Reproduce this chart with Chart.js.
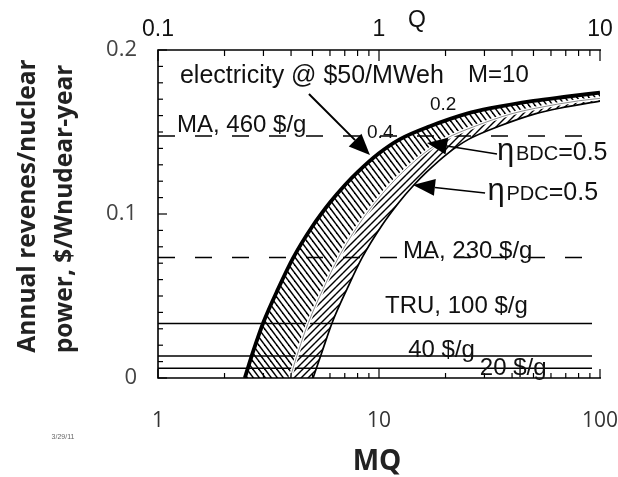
<!DOCTYPE html>
<html><head><meta charset="utf-8">
<script src="https://cdn.jsdelivr.net/npm/chart.js@4/dist/chart.umd.min.js"></script>
<style>html,body{margin:0;padding:0;background:#fff;}canvas{display:block;}</style>
</head><body>
<canvas id="c" width="618" height="477"></canvas>
<script>
// ---- tick labels ----
const mqTickValues = [1, 10, 100];
const mqTickLabels = ['1', '10', '100'];
const mqMinorTicks = [2, 3, 4, 5, 6, 7, 8, 9, 20, 30, 40, 50, 60, 70, 80, 90];
const qTickValues = [0.1, 1, 10];
const qTickLabels = ['0.1', '1', '10'];
const qMinorTicks = [0.2, 0.3, 0.4, 0.5, 0.6, 0.7, 0.8, 0.9, 2, 3, 4, 5, 6, 7, 8, 9];
const yTickValues = [0, 0.1, 0.2];
const yTickLabels = ['0', '0.1', '0.2'];
const yMinorTicks = [0.01, 0.02, 0.03, 0.04, 0.05, 0.06, 0.07, 0.08, 0.09, 0.11, 0.12, 0.13, 0.14, 0.15, 0.16, 0.17, 0.18, 0.19];

// ---- curves (MQ, annual revenue $/W-year) ----
// electricity @ $50/MWeh, M=10 (outer band edge)
const outerMQ  = [2.47, 2.7, 3.0, 3.5, 4.1, 5, 6, 7, 8, 10, 12.4, 17, 25, 32, 50, 70, 100];
const outerRev = [0, 0.0165, 0.034, 0.0545, 0.0735, 0.0925, 0.107, 0.1175, 0.1255, 0.137, 0.1455, 0.1535, 0.1612, 0.1645, 0.169, 0.1715, 0.174];
// eta_BDC = 0.5 (middle divider)
const middleMQ  = [3.96, 4.32, 4.8, 5.6, 6.56, 8, 9.6, 11.2, 12.8, 16, 19.8, 27.2, 40, 51.2, 80, 100];
const middleRev = [0, 0.0165, 0.034, 0.0545, 0.0735, 0.0925, 0.107, 0.1175, 0.1255, 0.137, 0.1455, 0.1535, 0.1612, 0.1645, 0.169, 0.1705];
// eta_PDC = 0.5 (inner band edge)
const innerMQ  = [5.03, 5.54, 6.15, 7.18, 8.4, 10.25, 12.3, 14.35, 16.4, 20.5, 25.4, 34.9, 51.3, 65.6, 100];
const innerRev = [0, 0.0165, 0.034, 0.0545, 0.0735, 0.0925, 0.107, 0.1175, 0.1255, 0.137, 0.1455, 0.1535, 0.1612, 0.1645, 0.1688];

// ---- horizontal value levels ----
const levelNames  = ['MA, 460 $/g', 'MA, 230 $/g', 'TRU, 100 $/g', '40 $/g', '20 $/g'];
const levelValues = [0.1476, 0.0735, 0.0333, 0.0134, 0.0059];
const levelFromMQ = 1;
const levelToMQ = 92;

// ---- annotations (data coordinates) ----
const notes = [
  {parts: [['electricity @ $50/MWeh', 25]], mq: 1.257, rev: 0.1801},
  {parts: [['M=10', 24]], mq: 25.3, rev: 0.1807},
  {parts: [['0.2', 19]], mq: 17.0, rev: 0.1634},
  {parts: [['0.4', 19]], mq: 8.83, rev: 0.1463},
  {parts: [['MA, 460 $/g', 24]], mq: 1.219, rev: 0.1502},
  {parts: [['MA, 230 $/g', 24]], mq: 12.84, rev: 0.0730},
  {parts: [['TRU, 100 $/g', 24]], mq: 10.65, rev: 0.0394},
  {parts: [['40 $/g', 24]], mq: 13.55, rev: 0.0130},
  {parts: [['20 $/g', 24]], mq: 28.6, rev: 0.0018},
  {parts: [['η', 31], [' ', 6], ['BDC', 20], ['=0.5', 25]], mq: 34.2, rev: 0.1329},
  {parts: [['η', 31], [' ', 6], ['PDC', 20], ['=0.5', 25]], mq: 31.0, rev: 0.1085}
];
const arrows = [
  {from: [4.82, 0.1732], to: [9.1, 0.136], len: 21, half: 9, lw: 2},
  {from: [34.2, 0.1366], to: [16.5, 0.1433], len: 20, half: 8.5, lw: 1.5},
  {from: [30.2, 0.1128], to: [14.25, 0.1177], len: 22, half: 8.5, lw: 1.5}
];

const cv = document.getElementById('c');
const ctx0 = cv.getContext('2d');
function hatch(w, h, dir, lw, bg) {
  const t = document.createElement('canvas'); t.width = w; t.height = h;
  const g = t.getContext('2d');
  if (bg) { g.fillStyle = bg; g.fillRect(0, 0, w, h); }
  g.strokeStyle = '#000'; g.lineWidth = lw;
  for (const [dx, dy] of [[-w, 0], [0, 0], [w, 0], [0, -h], [0, h]]) {
    g.beginPath();
    if (dir === '/') { g.moveTo(dx, dy + h); g.lineTo(dx + w, dy); }
    else { g.moveTo(dx, dy); g.lineTo(dx + w, dy + h); }
    g.stroke();
  }
  return ctx0.createPattern(t, 'repeat');
}
const hatchBDC = hatch(6, 8, '\\', 1.5, '#fff');
const hatchPDC = hatch(7, 7, '/', 1.4, '#fff');

const pts = (xs, ys) => xs.map((x, i) => ({x: x, y: ys[i]}));
const curve = {pointRadius: 0, cubicInterpolationMode: 'monotone', tension: 0.4, fill: false, xAxisID: 'x', yAxisID: 'y'};
const none = 'rgba(0,0,0,0)';

const datasets = [
  Object.assign({label: 'electricity @ $50/MWeh, M=10', data: pts(outerMQ, outerRev), borderColor: '#000', borderWidth: 3.8}, curve),
  Object.assign({label: 'ηPDC=0.5', data: pts(innerMQ, innerRev), borderColor: '#000', borderWidth: 1.7}, curve),
  Object.assign({label: 'ηBDC=0.5 core', data: pts(middleMQ, middleRev), borderColor: '#8c8c8c', borderWidth: 1}, curve),
  Object.assign({label: 'ηBDC=0.5', data: pts(middleMQ, middleRev), borderColor: '#fff', borderWidth: 3.5}, curve)
];
levelNames.forEach((name, i) => {
  datasets.push({
    label: name,
    data: [{x: levelFromMQ, y: levelValues[i]}, {x: levelToMQ, y: levelValues[i]}],
    borderColor: '#000', borderWidth: 1.5, borderDash: i < 2 ? [17, 20] : [],
    pointRadius: 0, fill: false, xAxisID: 'x', yAxisID: 'y'
  });
});
datasets.push(Object.assign({}, curve, {label: 'below PDC', data: pts(innerMQ, innerRev), borderColor: none, borderWidth: 0, fill: 'origin', backgroundColor: '#fff'}));
datasets.push(Object.assign({}, curve, {label: 'PDC band', data: pts(middleMQ, middleRev), borderColor: none, borderWidth: 0, fill: 'origin', backgroundColor: hatchPDC}));
datasets.push(Object.assign({}, curve, {label: 'BDC band', data: pts(outerMQ, outerRev), borderColor: none, borderWidth: 0, fill: 'origin', backgroundColor: hatchBDC}));

const frame = {
  id: 'frame',
  afterDatasetsDraw(chart) {
    const {ctx, chartArea: a, scales} = chart;
    ctx.save();
    ctx.strokeStyle = '#000';
    const seg = (x1, y1, x2, y2) => { ctx.beginPath(); ctx.moveTo(x1, y1); ctx.lineTo(x2, y2); ctx.stroke(); };
    ctx.lineWidth = 1.2;
    mqMinorTicks.forEach(v => { const x = scales.x.getPixelForValue(v); seg(x, a.bottom, x, a.bottom - 5); });
    mqTickValues.forEach(v => { const x = scales.x.getPixelForValue(v); seg(x, a.bottom, x, a.bottom - 9); });
    qMinorTicks.forEach(v => { const x = scales.x2.getPixelForValue(v); seg(x, a.top, x, a.top + 6); });
    qTickValues.forEach(v => { const x = scales.x2.getPixelForValue(v); seg(x, a.top, x, a.top + 11); });
    yMinorTicks.forEach(v => { const y = scales.y.getPixelForValue(v); seg(a.left, y, a.left + 5, y); });
    yTickValues.forEach(v => { const y = scales.y.getPixelForValue(v); seg(a.left, y, a.left + 9, y); });
    ctx.lineWidth = 1.6;
    ctx.beginPath(); ctx.moveTo(a.right + 1, a.top); ctx.lineTo(a.left, a.top); ctx.lineTo(a.left, a.bottom); ctx.lineTo(a.right + 1, a.bottom); ctx.stroke();

    // arrows
    ctx.fillStyle = '#000';
    arrows.forEach(ar => {
      const x1 = scales.x.getPixelForValue(ar.from[0]), y1 = scales.y.getPixelForValue(ar.from[1]);
      const x2 = scales.x.getPixelForValue(ar.to[0]), y2 = scales.y.getPixelForValue(ar.to[1]);
      const ang = Math.atan2(y2 - y1, x2 - x1);
      const bx = x2 - ar.len * Math.cos(ang), by = y2 - ar.len * Math.sin(ang);
      ctx.lineWidth = ar.lw;
      seg(x1, y1, bx, by);
      ctx.beginPath(); ctx.moveTo(x2, y2);
      ctx.lineTo(bx + ar.half * Math.sin(ang), by - ar.half * Math.cos(ang));
      ctx.lineTo(bx - ar.half * Math.sin(ang), by + ar.half * Math.cos(ang));
      ctx.closePath(); ctx.fill();
    });

    // text notes
    ctx.fillStyle = '#111';
    ctx.textBaseline = 'alphabetic'; ctx.textAlign = 'left';
    notes.forEach(n => {
      let x = scales.x.getPixelForValue(n.mq);
      const y = scales.y.getPixelForValue(n.rev);
      n.parts.forEach(([t, fs]) => {
        ctx.font = fs + 'px "Liberation Sans", Arial, sans-serif';
        ctx.fillText(t, x, y);
        x += ctx.measureText(t).width;
      });
    });

    // titles
    ctx.font = '23px "Liberation Sans", Arial, sans-serif';
    ctx.textAlign = 'center'; ctx.textBaseline = 'middle';
    ctx.fillText('Q', (a.left + a.right) / 2 + 38, 21);
    ctx.fillStyle = '#222';
    ctx.font = 'bold 28px "Open Sans", sans-serif';
    ctx.fillText('MQ', (a.left + a.right) / 2 - 2, 462);
    ctx.font = 'bold 24.5px "Open Sans", sans-serif';
    ctx.save(); ctx.translate(28, 206); ctx.rotate(-Math.PI / 2);
    ctx.fillText('Annual revenes/nuclear', 0, 0);
    ctx.restore();
    ctx.save(); ctx.translate(65, 209); ctx.rotate(-Math.PI / 2);
    ctx.fillText('power, $/Wnudear-year', 0, 0);
    ctx.restore();
    ctx.fillStyle = '#666';
    ctx.font = '7px "Liberation Sans", Arial, sans-serif';
    ctx.fillText('3/29/11', 63, 437);
    ctx.restore();
  }
};

const noPad = s => { s.paddingLeft = 0; s.paddingRight = 0; s.paddingTop = 0; s.paddingBottom = 0; };

new Chart(cv, {
  type: 'line',
  data: {datasets: datasets},
  options: {
    responsive: false, animation: false, devicePixelRatio: 1,
    layout: {padding: {left: 0, right: 18, top: 0, bottom: 0}},
    plugins: {legend: {display: false}, tooltip: {enabled: false}, filler: {drawTime: 'beforeDatasetsDraw', propagate: false}},
    scales: {
      x: {
        type: 'logarithmic', position: 'bottom', axis: 'x', min: 1, max: 100,
        afterBuildTicks: s => { s.ticks = mqTickValues.map(v => ({value: v})); },
        afterFit: s => { s.height = 99; noPad(s); },
        grid: {display: false, drawTicks: false}, border: {display: false},
        ticks: {autoSkip: false, maxRotation: 0, padding: 30, color: '#333',
          font: {family: '"Open Sans", sans-serif', size: 21},
          callback: v => { const i = mqTickValues.indexOf(v); return i >= 0 ? mqTickLabels[i] : ''; }}
      },
      x2: {
        type: 'logarithmic', position: 'top', axis: 'x', min: 0.1, max: 10,
        afterBuildTicks: s => { s.ticks = qTickValues.map(v => ({value: v})); },
        afterFit: s => { s.height = 50; noPad(s); },
        grid: {display: false, drawTicks: false}, border: {display: false},
        ticks: {autoSkip: false, maxRotation: 0, padding: 7, color: '#111',
          font: {family: '"Liberation Sans", Arial, sans-serif', size: 23},
          callback: v => { const i = qTickValues.indexOf(v); return i >= 0 ? qTickLabels[i] : ''; }}
      },
      y: {
        type: 'linear', position: 'left', min: 0, max: 0.2,
        afterBuildTicks: s => { s.ticks = yTickValues.map(v => ({value: v})); },
        afterFit: s => { s.width = 158; noPad(s); },
        grid: {display: false, drawTicks: false}, border: {display: false},
        ticks: {autoSkip: false, padding: 21, color: '#444',
          font: {family: '"Open Sans", sans-serif', size: 22},
          callback: v => { const i = yTickValues.indexOf(v); return i >= 0 ? yTickLabels[i] : ''; }}
      }
    }
  },
  plugins: [frame]
});
</script>
</body></html>
